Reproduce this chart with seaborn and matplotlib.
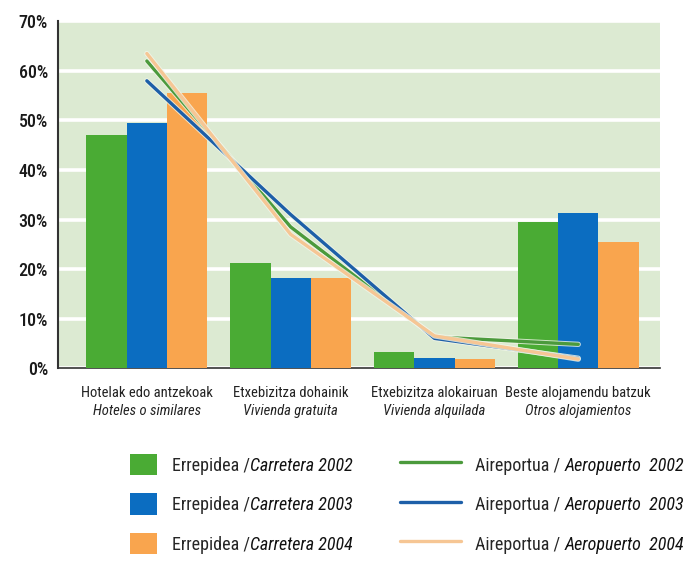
import numpy as np
import pandas as pd
import seaborn as sns
import matplotlib.pyplot as plt
import matplotlib.patheffects as pe
from matplotlib.patches import Patch
from matplotlib.lines import Line2D

# Categories (Basque / Spanish)
cat_eu = ["Hotelak edo antzekoak", "Etxebizitza dohainik",
          "Etxebizitza alokairuan", "Beste alojamendu batzuk"]
cat_es = ["Hoteles o similares", "Vivienda gratuita",
          "Vivienda alquilada", "Otros alojamientos"]

# Road (bars), percent
road_2002 = [47.0, 21.2, 3.3, 29.5]
road_2003 = [49.5, 18.1, 2.1, 31.4]
road_2004 = [55.5, 18.1, 1.8, 25.5]

# Airport (lines), percent
air_2002 = [62.0, 28.5, 6.3, 4.8]
air_2003 = [58.0, 31.0, 6.0, 2.0]
air_2004 = [63.5, 27.0, 6.5, 1.8]

years = ["2002", "2003", "2004"]
bar_colors = ["#4aab34", "#0b6dc1", "#f9a54e"]
line_colors = ["#4b9a3c", "#1d5fa8", "#f6c694"]

sns.set_theme(style="white")
plt.rcParams["font.family"] = ["Roboto Condensed", "DejaVu Sans"]

bars = pd.DataFrame({
    "cat": cat_eu * 3,
    "year": np.repeat(years, 4),
    "value": road_2002 + road_2003 + road_2004,
})
lines = pd.DataFrame({
    "pos": list(range(len(cat_eu))) * 3,
    "year": np.repeat(years, 4),
    "value": air_2002 + air_2003 + air_2004,
})

fig = plt.figure(figsize=(6.95, 5.62), dpi=100)
ax = fig.add_axes([0.083, 0.345, 0.867, 0.617])
ax.set_facecolor("#dcead2")

sns.barplot(data=bars, x="cat", y="value", hue="year", order=cat_eu,
            hue_order=years, palette=bar_colors, width=0.84, gap=0,
            saturation=1, ax=ax, legend=False, zorder=3)
for b in ax.patches:
    b.set_linewidth(0)

sns.lineplot(data=lines, x="pos", y="value", hue="year", hue_order=years,
             palette=line_colors, linewidth=2.4, ax=ax, legend=False,
             zorder=5)
for ln in ax.get_lines():
    ln.set_path_effects([pe.Stroke(linewidth=3.8, foreground="#f2f6ea", alpha=0.8),
                         pe.Normal()])

ax.set_ylim(0, 70)
ax.set_xlim(-0.62, 3.57)
ax.set_yticks(range(0, 71, 10))
ax.set_yticklabels([f"{v}%" for v in range(0, 71, 10)], fontsize=13,
                   color="#1a1a1a", fontweight="medium")
ax.yaxis.grid(True, color="white", linewidth=2.6, zorder=1)
ax.set_axisbelow(True)
ax.tick_params(axis="y", length=3, width=1, color="#333333", pad=4)

# ticks between categories, labels as texts
ax.set_xticks([0.5, 1.5, 2.5])
ax.set_xticklabels([])
ax.tick_params(axis="x", length=8, width=1, color="#333333", direction="out")
ax.set_xlabel("")
ax.set_ylabel("")
for i, (eu, es) in enumerate(zip(cat_eu, cat_es)):
    ax.text(i, -5.0, eu, ha="center", va="center", fontsize=10.5,
            color="#222222")
    ax.text(i, -8.6, es, ha="center", va="center", fontsize=10.5,
            style="italic", color="#222222")

for s in ["top", "right"]:
    ax.spines[s].set_visible(False)
ax.spines["left"].set_color("#333333")
ax.spines["bottom"].set_color("#333333")
ax.spines["left"].set_linewidth(1.5)
ax.spines["bottom"].set_linewidth(1.2)

# legends: bars (left) and lines (right)
bar_handles = [Patch(facecolor=c, edgecolor="none") for c in bar_colors]
line_handles = [Line2D([], [], color=c, linewidth=2.4) for c in line_colors]
common = dict(loc="upper left", frameon=False, fontsize=13, borderpad=0,
              borderaxespad=0, labelspacing=1.0)
leg1 = fig.legend(bar_handles, ["Errepidea /"] * 3,
                  bbox_to_anchor=(130 / 695, 1 - 454 / 562),
                  handlelength=1.5, handleheight=1.45, handletextpad=0.83,
                  **common)
leg2 = fig.legend(line_handles, ["Aireportua / "] * 3,
                  bbox_to_anchor=(400 / 695, 1 - 454 / 562),
                  handlelength=3.4, handleheight=1.45, handletextpad=0.75,
                  **common)

fig.canvas.draw()
r = fig.canvas.get_renderer()
italics = [f"Carretera {y}" for y in years] + [f"Aeropuerto  {y}" for y in years]
for t, it in zip(leg1.get_texts() + leg2.get_texts(), italics):
    bb = t.get_window_extent(r)
    fig.text(bb.x1 / fig.bbox.width, (bb.y0 + bb.y1) / 2 / fig.bbox.height,
             it, style="italic", fontsize=13, va="center", ha="left",
             color="#111111")

fig.savefig("out.png", dpi=100)
